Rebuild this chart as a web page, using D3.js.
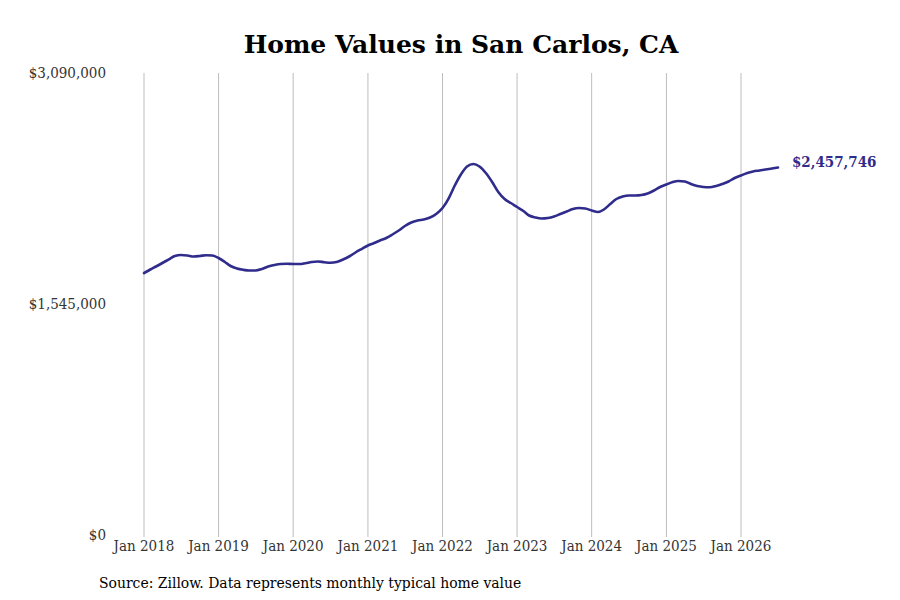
<!DOCTYPE html>
<html>
<head>
<meta charset="utf-8">
<script src="https://cdn.jsdelivr.net/npm/d3@7"></script>
<style>
  body { margin: 0; background: #fff; }
  svg { display: block; }
  .cond { font-family: 'DejaVu Serif Condensed', 'DejaVu Serif', serif; font-stretch: condensed; }
</style>
</head>
<body>
<svg id="chart" width="900" height="600"></svg>
<script>
// Data
var startYear = 2018;
var homeValues = [
  1752000, 1775800, 1795800, 1819200, 1842600, 1866000, 1872700, 1869400, 1862700, 1866000, 1871400, 1869400,
  1852700, 1825900, 1799200, 1782400, 1773800, 1769100, 1769100, 1779100, 1795800, 1805800, 1812500, 1813900,
  1812500, 1812500, 1817900, 1825900, 1829300, 1824600, 1820600, 1825900, 1842600, 1862700, 1889400, 1912800,
  1936300, 1953000, 1969700, 1986400, 2009800, 2036600, 2066700, 2090100, 2103500, 2110200, 2123500, 2146900,
  2187000, 2253900, 2334200, 2411100, 2464600, 2481400, 2464600, 2421100, 2360900, 2294000, 2247300, 2220500,
  2193800, 2167000, 2136900, 2123500, 2116900, 2120200, 2130200, 2146900, 2163700, 2180400, 2187000, 2183700,
  2170400, 2160300, 2177100, 2213800, 2247300, 2264000, 2270700, 2270700, 2274000, 2284100, 2304100, 2327500,
  2344300, 2361000, 2367700, 2364300, 2347600, 2334200, 2327500, 2325500, 2334200, 2347600, 2364300, 2387700,
  2404400, 2421100, 2431200, 2437900, 2444600, 2451300, 2457746
];
var tickYears = [2018, 2019, 2020, 2021, 2022, 2023, 2024, 2025, 2026];
var yTickValues = [0, 1545000, 3090000];
var chartTitle = "Home Values in San Carlos, CA";
var sourceNote = "Source: Zillow. Data represents monthly typical home value";

var svg = d3.select("#chart");
var lineColor = "#2f2c8c";

var data = homeValues.map(function(v, i) {
  return { date: new Date(startYear, i, 1), value: v };
});

// Scales
var x = d3.scaleTime()
  .domain([new Date(2018, 0, 1), new Date(2026, 0, 1)])
  .range([144, 741]);

var y = d3.scaleLinear()
  .domain([0, 3090000])
  .range([535, 73]);

var fmt = d3.format("$,");

// Title
svg.append("text")
  .attr("x", 461)
  .attr("y", 53)
  .attr("text-anchor", "middle")
  .style("font-family", "'DejaVu Serif', serif")
  .style("font-weight", "bold")
  .style("font-size", "25px")
  .attr("fill", "#000")
  .text(chartTitle);

// vertical grid lines
svg.append("g")
  .selectAll("line")
  .data(tickYears)
  .enter()
  .append("line")
  .attr("x1", function(d) { return x(new Date(d, 0, 1)); })
  .attr("x2", function(d) { return x(new Date(d, 0, 1)); })
  .attr("y1", y(3090000))
  .attr("y2", y(0) + 2)
  .attr("stroke", "#bdbdbd")
  .attr("stroke-width", 1);

// x tick labels
svg.append("g")
  .selectAll("text")
  .data(tickYears)
  .enter()
  .append("text")
  .attr("class", "cond")
  .attr("x", function(d) { return x(new Date(d, 0, 1)); })
  .attr("y", 551)
  .attr("text-anchor", "middle")
  .style("font-size", "15px")
  .attr("fill", "#333")
  .text(function(d) { return "Jan " + d; });

// y tick labels
svg.append("g")
  .selectAll("text")
  .data(yTickValues)
  .enter()
  .append("text")
  .attr("class", "cond")
  .attr("x", 106)
  .attr("y", function(d) { return y(d); })
  .attr("dy", "0.35em")
  .attr("text-anchor", "end")
  .style("font-size", "15px")
  .attr("fill", "#333")
  .text(function(d) { return fmt(d); });

// the line
var line = d3.line()
  .x(function(d) { return x(d.date); })
  .y(function(d) { return y(d.value); })
  .curve(d3.curveMonotoneX);

svg.append("path")
  .datum(data)
  .attr("fill", "none")
  .attr("stroke", lineColor)
  .attr("stroke-width", 2.6)
  .attr("stroke-linejoin", "round")
  .attr("stroke-linecap", "round")
  .attr("d", line);

// end label
var last = data[data.length - 1];
svg.append("text")
  .attr("class", "cond")
  .attr("x", x(last.date) + 14)
  .attr("y", y(last.value) - 6)
  .attr("dy", "0.35em")
  .style("font-weight", "bold")
  .style("font-size", "15px")
  .attr("fill", lineColor)
  .text(fmt(last.value));

// source note
svg.append("text")
  .attr("class", "cond")
  .attr("x", 99)
  .attr("y", 588)
  .style("font-size", "15.5px")
  .attr("fill", "#000")
  .text(sourceNote);
</script>
</body>
</html>
